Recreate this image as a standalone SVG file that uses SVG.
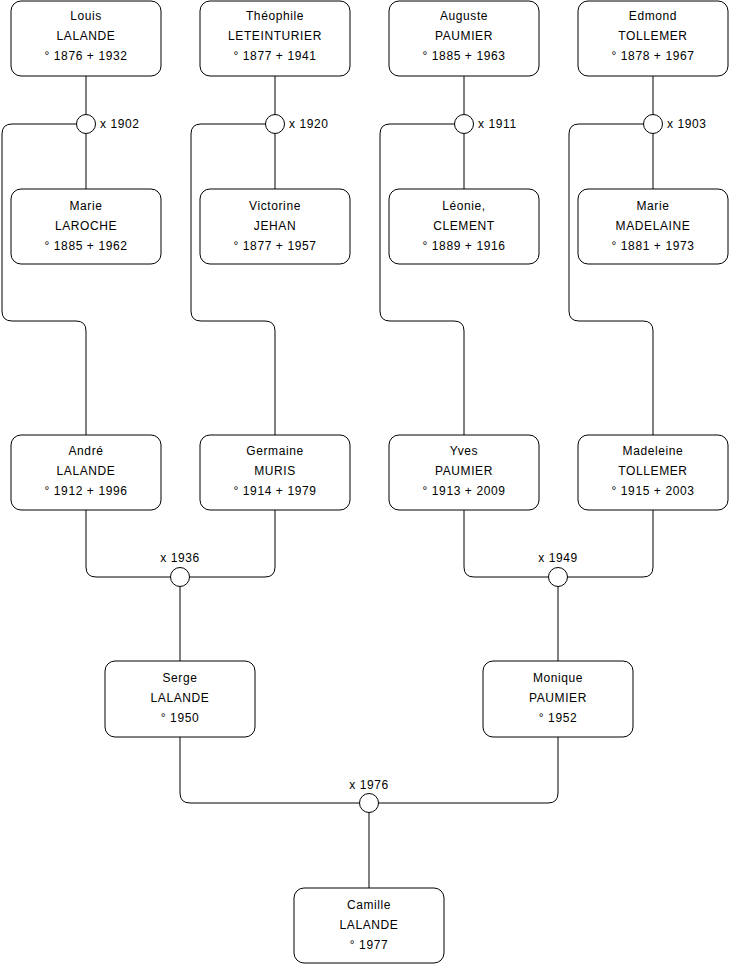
<svg xmlns="http://www.w3.org/2000/svg" width="740" height="975" viewBox="0 0 740 975">
<style>
.box{fill:#fff;stroke:#000;stroke-width:1}
.c{fill:#fff;stroke:#000;stroke-width:1}
.e{fill:none;stroke:#000;stroke-width:1}
text{font-family:"Liberation Sans",Arial,sans-serif;font-size:12px;fill:#000;letter-spacing:0.6px}
.m{text-anchor:middle}
</style>
<rect width="740" height="975" fill="#fff"/>
<g id="connectors">
<path class="e" d="M86 76V114.5M86 133.5V189"/>
<path class="e" d="M275 76V114.5M275 133.5V189"/>
<path class="e" d="M464 76V114.5M464 133.5V189"/>
<path class="e" d="M653 76V114.5M653 133.5V189"/>
<path class="e" d="M76.5 124H12Q2 124 2 134V311Q2 321 12 321H76Q86 321 86 331V435"/>
<path class="e" d="M265.5 124H201Q191 124 191 134V311Q191 321 201 321H265Q275 321 275 331V435"/>
<path class="e" d="M454.5 124H390Q380 124 380 134V311Q380 321 390 321H454Q464 321 464 331V435"/>
<path class="e" d="M643.5 124H579Q569 124 569 134V311Q569 321 579 321H643Q653 321 653 331V435"/>
<path class="e" d="M86 510V567Q86 577 96 577H170.5M275 510V567Q275 577 265 577H189.5M180 586.5V661"/>
<path class="e" d="M464 510V567Q464 577 474 577H548.5M653 510V567Q653 577 643 577H567.5M558 586.5V661"/>
<path class="e" d="M180 737V793Q180 803 190 803H359.5M558 737V793Q558 803 548 803H378.5M369 812.5V888"/>
</g>
<g id="m1902"><circle class="c" cx="86" cy="124" r="9.5"/><text x="100" y="128">x 1902</text></g>
<g id="m1920"><circle class="c" cx="275" cy="124" r="9.5"/><text x="289" y="128">x 1920</text></g>
<g id="m1911"><circle class="c" cx="464" cy="124" r="9.5"/><text x="478" y="128">x 1911</text></g>
<g id="m1903"><circle class="c" cx="653" cy="124" r="9.5"/><text x="667" y="128">x 1903</text></g>
<g id="m1936"><circle class="c" cx="180" cy="577" r="9.5"/><text class="m" x="180" y="562">x 1936</text></g>
<g id="m1949"><circle class="c" cx="558" cy="577" r="9.5"/><text class="m" x="558" y="562">x 1949</text></g>
<g id="m1976"><circle class="c" cx="369" cy="803" r="9.5"/><text class="m" x="369" y="789">x 1976</text></g>
<g id="louis"><rect class="box" x="11" y="1" width="150" height="75" rx="10"/><text class="m" x="86" y="20">Louis</text><text class="m" x="86" y="40">LALANDE</text><text class="m" x="86" y="60">° 1876 + 1932</text></g>
<g id="theophile"><rect class="box" x="200" y="1" width="150" height="75" rx="10"/><text class="m" x="275" y="20">Théophile</text><text class="m" x="275" y="40">LETEINTURIER</text><text class="m" x="275" y="60">° 1877 + 1941</text></g>
<g id="auguste"><rect class="box" x="389" y="1" width="150" height="75" rx="10"/><text class="m" x="464" y="20">Auguste</text><text class="m" x="464" y="40">PAUMIER</text><text class="m" x="464" y="60">° 1885 + 1963</text></g>
<g id="edmond"><rect class="box" x="578" y="1" width="150" height="75" rx="10"/><text class="m" x="653" y="20">Edmond</text><text class="m" x="653" y="40">TOLLEMER</text><text class="m" x="653" y="60">° 1878 + 1967</text></g>
<g id="marie1"><rect class="box" x="11" y="189" width="150" height="75" rx="10"/><text class="m" x="86" y="210">Marie</text><text class="m" x="86" y="230">LAROCHE</text><text class="m" x="86" y="250">° 1885 + 1962</text></g>
<g id="victorine"><rect class="box" x="200" y="189" width="150" height="75" rx="10"/><text class="m" x="275" y="210">Victorine</text><text class="m" x="275" y="230">JEHAN</text><text class="m" x="275" y="250">° 1877 + 1957</text></g>
<g id="leonie"><rect class="box" x="389" y="189" width="150" height="75" rx="10"/><text class="m" x="464" y="210">Léonie,</text><text class="m" x="464" y="230">CLEMENT</text><text class="m" x="464" y="250">° 1889 + 1916</text></g>
<g id="marie2"><rect class="box" x="578" y="189" width="150" height="75" rx="10"/><text class="m" x="653" y="210">Marie</text><text class="m" x="653" y="230">MADELAINE</text><text class="m" x="653" y="250">° 1881 + 1973</text></g>
<g id="andre"><rect class="box" x="11" y="435" width="150" height="75" rx="10"/><text class="m" x="86" y="455">André</text><text class="m" x="86" y="475">LALANDE</text><text class="m" x="86" y="495">° 1912 + 1996</text></g>
<g id="germaine"><rect class="box" x="200" y="435" width="150" height="75" rx="10"/><text class="m" x="275" y="455">Germaine</text><text class="m" x="275" y="475">MURIS</text><text class="m" x="275" y="495">° 1914 + 1979</text></g>
<g id="yves"><rect class="box" x="389" y="435" width="150" height="75" rx="10"/><text class="m" x="464" y="455">Yves</text><text class="m" x="464" y="475">PAUMIER</text><text class="m" x="464" y="495">° 1913 + 2009</text></g>
<g id="madeleine"><rect class="box" x="578" y="435" width="150" height="75" rx="10"/><text class="m" x="653" y="455">Madeleine</text><text class="m" x="653" y="475">TOLLEMER</text><text class="m" x="653" y="495">° 1915 + 2003</text></g>
<g id="serge"><rect class="box" x="105" y="661" width="150" height="76" rx="10"/><text class="m" x="180" y="682">Serge</text><text class="m" x="180" y="702">LALANDE</text><text class="m" x="180" y="722">° 1950</text></g>
<g id="monique"><rect class="box" x="483" y="661" width="150" height="76" rx="10"/><text class="m" x="558" y="682">Monique</text><text class="m" x="558" y="702">PAUMIER</text><text class="m" x="558" y="722">° 1952</text></g>
<g id="camille"><rect class="box" x="294" y="888" width="150" height="75" rx="10"/><text class="m" x="369" y="909">Camille</text><text class="m" x="369" y="929">LALANDE</text><text class="m" x="369" y="949">° 1977</text></g>
</svg>
